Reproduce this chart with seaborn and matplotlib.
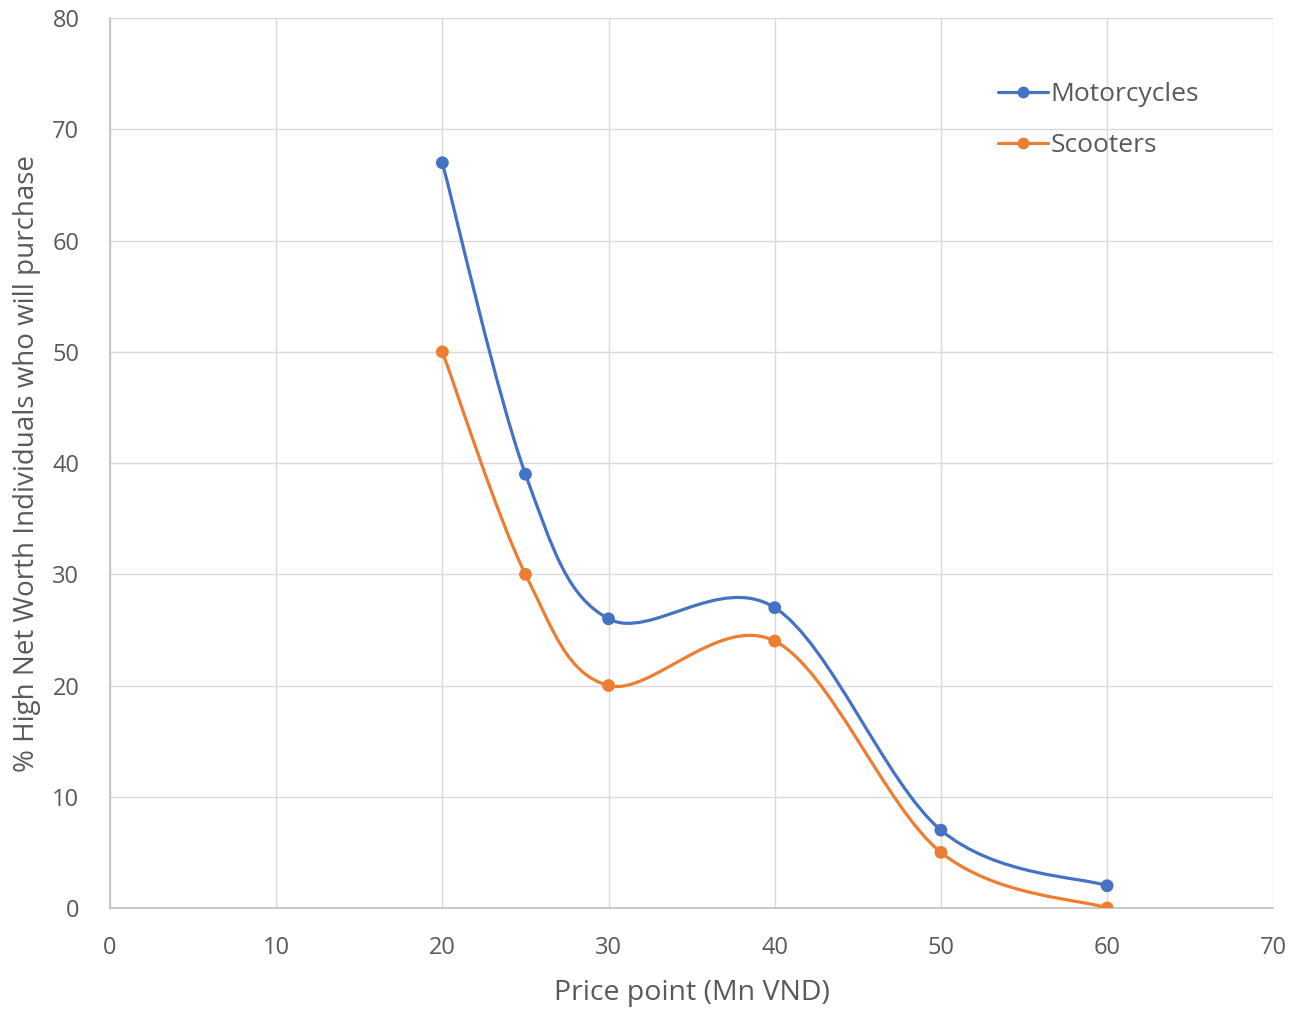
import numpy as np
import pandas as pd
import matplotlib.pyplot as plt
import seaborn as sns
from matplotlib.path import Path
from matplotlib.patches import PathPatch
from matplotlib.lines import Line2D

# data
price = [20, 25, 30, 40, 50, 60]
motorcycles = [67, 39, 26, 27, 7, 2]
scooters = [50, 30, 20, 24, 5, 0]

series = ["Motorcycles", "Scooters"]
colors = {"Motorcycles": "#4472C4", "Scooters": "#ED7D31"}
grey = "#595959"

sns.set_theme(style="white")
plt.rcParams["font.family"] = ["Open Sans", "DejaVu Sans"]

df = pd.DataFrame({
    "price": price * 2,
    "pct": motorcycles + scooters,
    "series": [series[0]] * len(price) + [series[1]] * len(price),
})


def smooth_path(xs, ys):
    # Excel-like smoothing: cubic Bezier with Catmull-Rom control points
    pts = np.column_stack([xs, ys]).astype(float)
    n = len(pts)
    verts = [pts[0]]
    codes = [Path.MOVETO]
    for i in range(n - 1):
        p0 = pts[max(i - 1, 0)]
        p1 = pts[i]
        p2 = pts[i + 1]
        p3 = pts[min(i + 2, n - 1)]
        verts += [p1 + (p2 - p0) / 6, p2 - (p3 - p1) / 6, p2]
        codes += [Path.CURVE4] * 3
    return Path(verts, codes)


fig = plt.figure(figsize=(12.94, 10.10), dpi=100)
ax = fig.add_axes([0.085, 0.101, 0.899, 0.881])

for name, vals in zip(series, [motorcycles, scooters]):
    ax.add_patch(PathPatch(smooth_path(price, vals), facecolor="none",
                           edgecolor=colors[name], lw=2.3, zorder=3))

sns.scatterplot(data=df, x="price", y="pct", hue="series", palette=colors,
                s=85, edgecolor="none", legend=False, zorder=4, ax=ax)

ax.set_xlim(0, 70)
ax.set_ylim(0, 80)
ax.set_xticks(range(0, 71, 10))
ax.set_yticks(range(0, 81, 10))
ax.grid(True, color="#D9D9D9", lw=1)
ax.set_axisbelow(True)
for side in ["top", "right"]:
    ax.spines[side].set_visible(False)
for side in ["left", "bottom"]:
    ax.spines[side].set_color("#BFBFBF")
    ax.spines[side].set_linewidth(1.2)
ax.tick_params(axis="x", length=0, labelsize=17, colors=grey, pad=20)
ax.tick_params(axis="y", length=0, labelsize=17, colors=grey, pad=22)

ax.set_xlabel("Price point (Mn VND)", fontsize=20.5, color=grey, labelpad=14)
ax.set_ylabel("% High Net Worth Individuals who will purchase", fontsize=20,
              color=grey, labelpad=8)

handles = [Line2D([0], [0], color=colors[s], lw=2.3, marker="o", markersize=7.5)
           for s in series]
ax.legend(handles, series, loc="upper left", bbox_to_anchor=(0.743, 0.955),
          frameon=False, fontsize=19, labelcolor=grey, handlelength=1.9,
          handletextpad=0.1, labelspacing=1.0)

fig.savefig("out.png", dpi=100)
